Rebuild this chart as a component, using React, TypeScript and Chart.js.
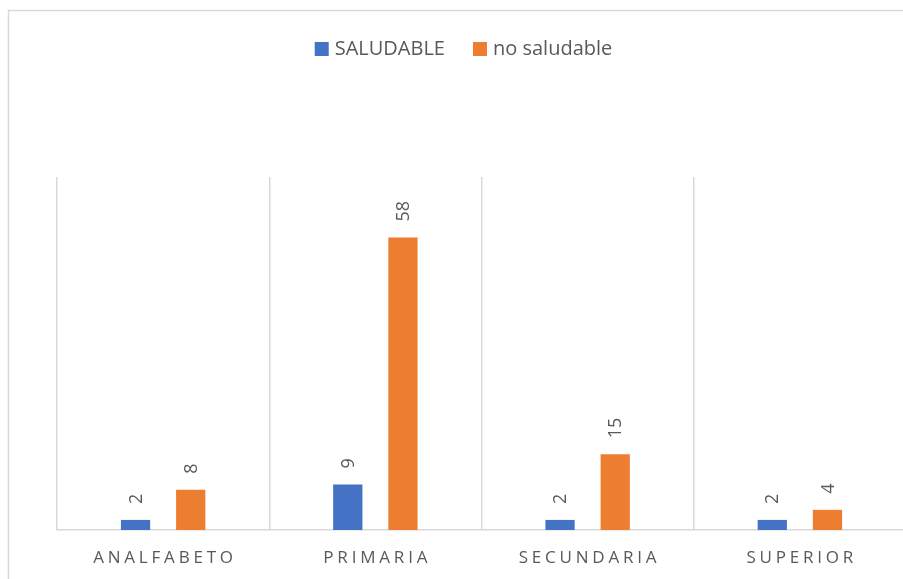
import React, { useEffect, useRef } from "react";
import { Chart, registerables } from "chart.js";

Chart.register(...registerables);

const categories = ["ANALFABETO", "PRIMARIA", "SECUNDARIA", "SUPERIOR"];
const seriesNames = ["SALUDABLE", "no saludable"];
const saludable = [2, 9, 2, 2];
const noSaludable = [8, 58, 15, 4];
const seriesColors = ["#4472C4", "#ED7D31"];

const TEXT = "#595959";
const GRID = "#d9d9d9";
const FONT = "'Open Sans', 'Noto Sans', sans-serif";

const framePlugin = {
  id: "frame",
  beforeDraw(chart: any) {
    const ctx = chart.ctx;
    ctx.save();
    ctx.fillStyle = "#ffffff";
    ctx.fillRect(0, 0, chart.width, chart.height);
    ctx.strokeStyle = GRID;
    ctx.lineWidth = 1.5;
    ctx.strokeRect(8.5, 10.5, 1100, 800);
    ctx.restore();
  },
};

const legendPlugin = {
  id: "customLegend",
  afterDraw(chart: any) {
    const ctx = chart.ctx;
    ctx.save();
    ctx.font = `20px ${FONT}`;
    ctx.textBaseline = "middle";
    ctx.textAlign = "left";
    const box = 14;
    const gapText = 6;
    const gapItem = 28;
    const items = chart.data.datasets.map((d: any) => ({
      label: d.label,
      color: d.backgroundColor,
      w: ctx.measureText(d.label).width,
    }));
    let total = 0;
    items.forEach((it: any, i: number) => {
      total += box + gapText + it.w + (i < items.length - 1 ? gapItem : 0);
    });
    const cy = 49;
    let x = 463.5 - total / 2;
    items.forEach((it: any) => {
      ctx.fillStyle = it.color;
      ctx.fillRect(x, cy - box / 2, box, box);
      x += box + gapText;
      ctx.fillStyle = TEXT;
      ctx.fillText(it.label, x, cy);
      x += it.w + gapItem;
    });
    ctx.restore();
  },
};

const labelsPlugin = {
  id: "barLabels",
  afterDatasetsDraw(chart: any) {
    const ctx = chart.ctx;
    ctx.save();
    ctx.font = `18px ${FONT}`;
    ctx.fillStyle = TEXT;
    ctx.textAlign = "left";
    ctx.textBaseline = "middle";
    chart.data.datasets.forEach((ds: any, di: number) => {
      const meta = chart.getDatasetMeta(di);
      meta.data.forEach((bar: any, i: number) => {
        ctx.save();
        ctx.translate(bar.x, bar.y - 16);
        ctx.rotate(-Math.PI / 2);
        ctx.fillText(String(ds.data[i]), 0, 1);
        ctx.restore();
      });
    });
    // category labels with letter spacing
    const xs = chart.scales.x;
    const ls = 3.8;
    ctx.font = `17px ${FONT}`;
    (ctx as any).letterSpacing = `${ls}px`;
    ctx.textAlign = "center";
    chart.data.labels.forEach((lab: string, i: number) => {
      const x = xs.getPixelForValue(i);
      ctx.fillText(lab, x + ls / 2, 558);
    });
    ctx.restore();
  },
};

export default function App() {
  const ref = useRef<HTMLCanvasElement>(null);
  useEffect(() => {
    if (!ref.current) return;
    const chart = new Chart(ref.current, {
      type: "bar",
      data: {
        labels: categories,
        datasets: [
          { label: seriesNames[0], data: saludable, backgroundColor: seriesColors[0] },
          { label: seriesNames[1], data: noSaludable, backgroundColor: seriesColors[1] },
        ],
      },
      options: {
        animation: false,
        responsive: false,
        devicePixelRatio: 1,
        layout: { padding: { left: 57, right: 34, top: 177, bottom: 70 } },
        datasets: {
          bar: { categoryPercentage: 0.52, barPercentage: 0.53 },
        },
        plugins: {
          legend: { display: false },
          tooltip: { enabled: false },
        },
        scales: {
          x: {
            offset: true,
            grid: { display: true, color: GRID, lineWidth: 1.5, drawTicks: false, offset: true },
            border: { display: true, color: GRID, width: 1.5 },
            ticks: { display: false },
          },
          y: {
            display: false,
            min: 0,
            max: 70,
          },
        },
      },
      plugins: [framePlugin, labelsPlugin, legendPlugin],
    });
    return () => chart.destroy();
  }, []);
  return (
    <div style={{ position: "absolute", left: 0, top: 0, width: 903, height: 579, overflow: "hidden", background: "#fff" }}>
      <canvas ref={ref} width={940} height={600} style={{ display: "block" }} />
    </div>
  );
}
